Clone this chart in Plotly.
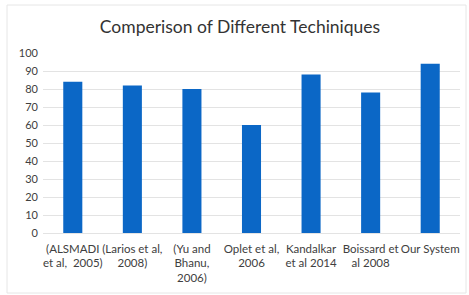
import plotly.graph_objects as go

categories = [
    "(ALSMADI<br>et al,  2005)",
    "(Larios et al,<br>2008)",
    "(Yu and<br>Bhanu,<br>2006)",
    "Oplet et al,<br>2006",
    "Kandalkar<br>et al 2014",
    "Boissard et<br>al 2008",
    "Our System",
]
values = [84, 82, 80, 60, 88, 78, 94]
y_ticks = [0, 10, 20, 30, 40, 50, 60, 70, 80, 90, 100]

W, H = 469, 295
L, R, T, B = 43, 9, 53, 62
pw = W - L - R
ph = H - T - B

fig = go.Figure(go.Bar(x=categories, y=values, marker_color="#0b67c6",
                       marker_line_width=0, width=0.32))

fig.update_layout(
    width=W, height=H,
    margin=dict(l=L, r=R, t=T, b=B, autoexpand=False),
    paper_bgcolor="white", plot_bgcolor="white",
    font=dict(family="Lato, Noto Sans, sans-serif", size=11.5, color="#404040"),
    title=dict(text="Comperison of Different Techiniques", x=240 / W, xanchor="center",
               xref="container",
               y=1 - 27 / H, yanchor="middle", yref="container",
               font=dict(size=17.5, color="#333333")),
    showlegend=False,
    xaxis=dict(showgrid=False, showline=False, ticks="", tickangle=0, automargin=False,
               ticklabelstandoff=7,
               tickfont=dict(size=11.5, color="#404040")),
    yaxis=dict(range=[0, 100], tickvals=y_ticks, showgrid=True, gridcolor="#e3e3e3",
               gridwidth=1, zeroline=True, zerolinecolor="#e3e3e3", zerolinewidth=1,
               automargin=False, ticklabelstandoff=4,
               showline=False, ticks="", tickfont=dict(size=11, color="#404040")),
    shapes=[dict(type="rect", xref="paper", yref="paper",
                 x0=(7 - L) / pw, x1=(466 - L) / pw,
                 y0=-(293 - (T + ph)) / ph, y1=1 + (T - 5) / ph,
                 line=dict(color="#e6e6e6", width=1), layer="below")],
)

fig.write_html("out.html", config={"displayModeBar": False},
               post_script="document.body.style.margin='0';document.body.style.overflow='hidden';")
